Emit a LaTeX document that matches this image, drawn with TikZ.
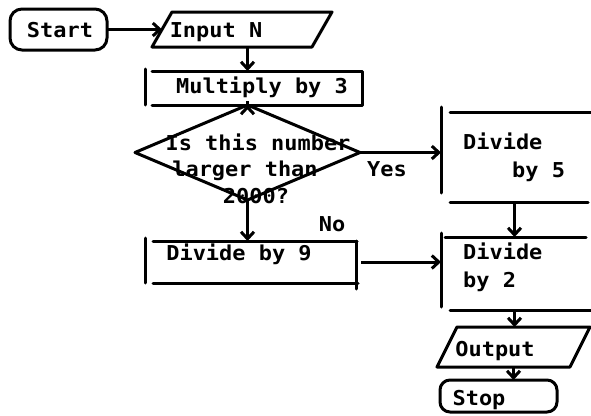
\documentclass[tikz,border=0pt]{standalone}
\usepackage{fontspec}
\newfontfamily\chartfont{DejaVu Sans Mono}[FakeStretch=1.07]
\usetikzlibrary{shapes.geometric,arrows.meta,calc}
\begin{document}
\begin{tikzpicture}[x=1pt,y=-1pt,
  blank/.style={draw=none, inner sep=0pt, outer sep=0pt},
  lineart/.style={line width=3pt, line cap=round, line join=round},
  arr/.style={line width=3pt, -{Straight Barb[length=7pt,width=13pt]}},
  txt/.style={inner sep=0pt, font=\chartfont\bfseries\fontsize{20.5}{22}\selectfont}
]
\useasboundingbox (0,0) rectangle (591,415);

% Start
\node[blank, minimum width=97pt, minimum height=41pt] (start) at (58.5,29.5) {};
\draw[lineart, rounded corners=12pt] (start.north west) rectangle (start.south east);
\node[txt, anchor=base] (tstart) at (60,37) {Start};

% Input N
\node[blank, minimum width=180pt, minimum height=35pt] (input) at (242,29.5) {};
\draw[lineart] ($(input.north west)+(20,0)$) -- (input.north east) -- ($(input.south east)+(-20,0)$) -- (input.south west) -- cycle;
\node[txt, anchor=base] (tinput) at (216,37) {Input N};
\draw[arr] (start.east) -- ($(input.west)+(10,0)$);

% Multiply by 3
\node[blank, minimum width=217pt, minimum height=34pt] (mult) at (253.5,88) {};
\draw[lineart] ($(mult.north west)+(0,-2)$) -- (mult.south west);
\draw[lineart] ($(mult.north west)+(7,0)$) -- (mult.north east) -- (mult.south east) -- ($(mult.south west)+(7,0)$);
\node[txt, anchor=base] (tmult) at (262,93) {Multiply by 3};

% Decision
\node[blank, diamond, draw, lineart, minimum width=225pt, minimum height=95pt] (dec) at (247.5,152.5) {};
\node[txt, anchor=base] (tdec1) at (258,150) {Is this number};
\node[txt, anchor=base] (tdec2) at (245,176.7) {larger than};
\node[txt, anchor=base] (tdec3) at (256,203) {2000?};

\draw[arr] (input.south -| dec.north) -- (mult.north -| dec.north);
\draw[arr] (mult.south -| dec.north) -- (dec.north);

% Divide by 5
\node[blank, minimum width=147pt, minimum height=90pt] (div5) at (514.5,157) {};
\draw[lineart] ($(div5.north west)+(0,-5)$) -- ($(div5.south west)+(0,-9)$);
\draw[lineart] ($(div5.north west)+(9,0)$) -- ($(div5.north east)+(3,0)$);
\draw[lineart] ($(div5.south west)+(9,0)$) -- (div5.south east);
\draw[arr] (dec.east) -- (dec.east -| div5.west);
\node[txt, anchor=base west] (tdiv5a) at (463,149) {Divide};
\node[txt, anchor=base west] (tdiv5b) at (512,177) {by 5};
\node[txt, anchor=base] (tyes) at (387,176.7) {Yes};

% Divide by 9
\node[blank, minimum width=211pt, minimum height=42pt] (div9) at (250.5,262) {};
\draw[lineart] ($(div9.north west)+(0,-3)$) -- (div9.south west);
\draw[lineart] ($(div9.north west)+(8,0)$) -- ($(div9.north east)+(1,0)$);
\draw[lineart] ($(div9.south west)+(8,0)$) -- ($(div9.south east)+(2,0)$);
\draw[lineart] (div9.north east) -- ($(div9.south east)+(0,6)$);
\draw[arr] (dec.south) -- (dec.south |- div9.north);
\node[txt, anchor=base] (tno) at (332,231.7) {No};
\node[txt, anchor=base] (tdiv9) at (239,260) {Divide by 9};

% Divide by 2
\node[blank, minimum width=147pt, minimum height=73pt] (div2) at (514.5,273.5) {};
\draw[lineart] ($(div2.north west)+(0,-4)$) -- ($(div2.south west)+(0,-3)$);
\draw[lineart] ($(div2.north west)+(4,0)$) -- ($(div2.north east)+(-2,0)$);
\draw[lineart] ($(div2.south west)+(9,0)$) -- ($(div2.south east)+(3,0)$);
\draw[arr] (div5.south) -- (div2.north);
\draw[arr] ($(div9.east)+(5,0)$) -- (div9.east -| div2.west);
\node[txt, anchor=base west] (tdiv2a) at (463,259) {Divide};
\node[txt, anchor=base west] (tdiv2b) at (463,287) {by 2};

% Output
\node[blank, minimum width=153pt, minimum height=40pt] (out) at (513.5,347) {};
\draw[lineart] ($(out.north west)+(20,0)$) -- (out.north east) -- ($(out.south east)+(-20,0)$) -- (out.south west) -- cycle;
\draw[arr] (div2.south) -- (div2.south |- out.north);
\node[txt, anchor=base] (tout) at (495,356) {Output};

% Stop
\node[blank, minimum width=117pt, minimum height=32pt] (stop) at (498.5,396) {};
\draw[lineart, rounded corners=10pt] (stop.north west) rectangle (stop.south east);
\draw[arr] (out.south) -- (out.south |- stop.north);
\node[txt, anchor=base] (tstop) at (479,405) {Stop};
\end{tikzpicture}
\end{document}
